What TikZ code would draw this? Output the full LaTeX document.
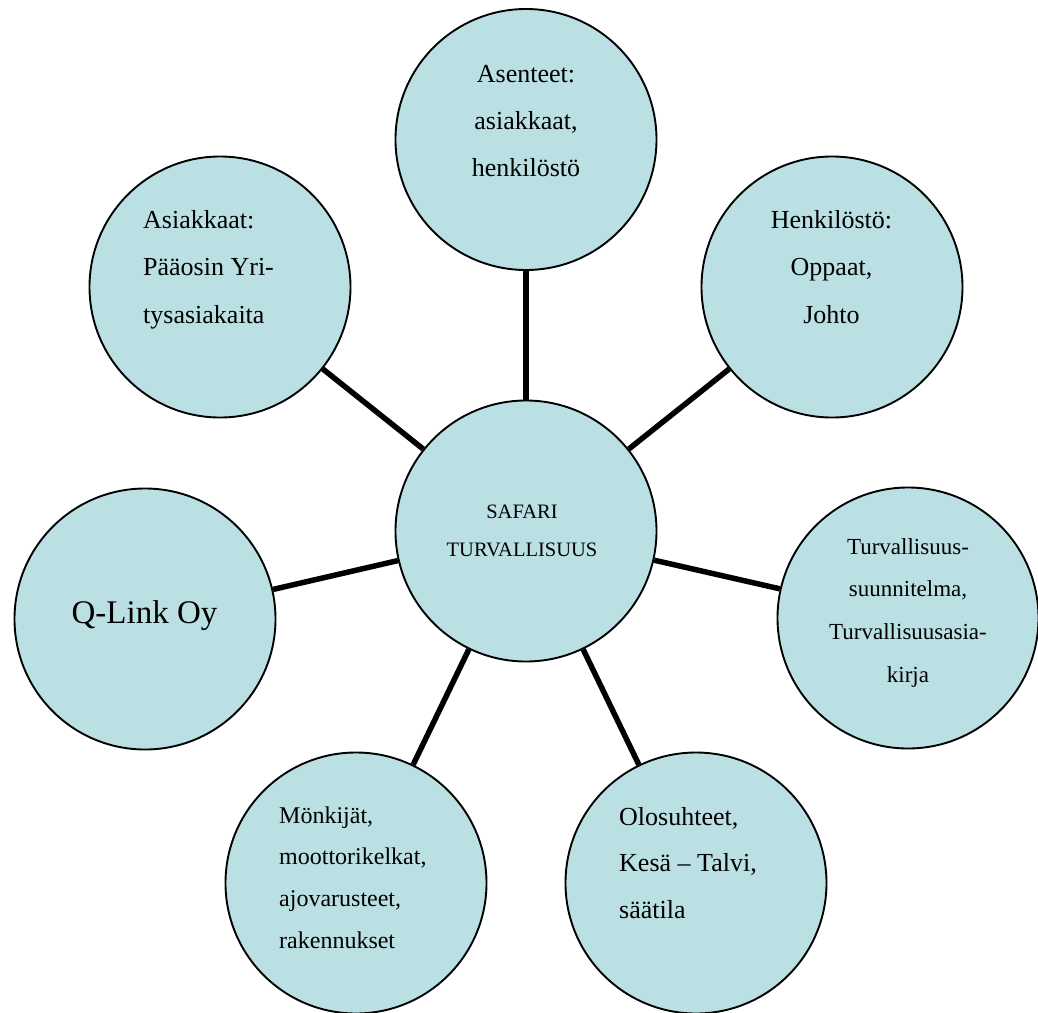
\documentclass[tikz,border=0pt]{standalone}
\usepackage{fontspec}
\setmainfont{Liberation Serif}
\definecolor{bub}{RGB}{186,224,228}
\newcommand{\mylinesC}[1]{\vtop{\halign{\hfil##\hfil\cr#1\crcr}}}
\newcommand{\mylinesL}[1]{\vtop{\halign{##\hfil\cr#1\crcr}}}
\begin{document}
\begin{tikzpicture}[x=1pt,y=-1pt,
  bubble/.style={circle,draw=black,line width=1.9pt,fill=bub,minimum size=261pt,inner sep=0pt},
  link/.style={line width=5.5pt,draw=black},
  txt/.style={inner sep=0pt,text=black}]
\useasboundingbox (0,0) rectangle (1038,1012);
\clip (0,0) rectangle (1038,1012);
% circles
\node[bubble] (c)  at (526,531) {};
\node[bubble] (t)  at (526,139.5) {};
\node[bubble] (tl) at (220,287) {};
\node[bubble] (tr) at (832,287) {};
\node[bubble] (l)  at (145,619) {};
\node[bubble] (r)  at (908,618) {};
\node[bubble] (bl) at (356,883) {};
\node[bubble] (br) at (696,883) {};
% connectors
\foreach \n in {t,tl,tr,l,r,bl,br} \draw[link] (c) -- (\n);
% texts
\node[txt,anchor=base,font=\fontsize{20.5}{38}\selectfont] (ct) at (522,518)
  {\mylinesC{SAFARI\cr TURVALLISUUS}};
\node[txt,anchor=base,font=\fontsize{26}{47}\selectfont] (tt) at (526,82)
  {\mylinesC{Asenteet:\cr asiakkaat,\cr henkilöstö}};
\node[txt,anchor=base west,font=\fontsize{26}{47.5}\selectfont] (tlt) at (143,228)
  {\mylinesL{Asiakkaat:\cr Pääosin Yri-\cr tysasiakaita}};
\node[txt,anchor=base,font=\fontsize{26}{47.5}\selectfont] (trt) at (831.5,228)
  {\mylinesC{Henkilöstö:\cr Oppaat,\cr Johto}};
\node[txt,anchor=base,font=\fontsize{33}{40}\selectfont] (lt) at (144.5,623)
  {Q-Link Oy};
\node[txt,anchor=base,font=\fontsize{23}{42.7}\selectfont] (rt) at (908,554)
  {\mylinesC{Turvallisuus-\cr suunnitelma,\cr Turvallisuusasia-\cr kirja}};
\node[txt,anchor=base west,font=\fontsize{24}{41.7}\selectfont] (blt) at (279,823)
  {\mylinesL{Mönkijät,\cr moottorikelkat,\cr ajovarusteet,\cr rakennukset}};
\node[txt,anchor=base west,font=\fontsize{26}{46.5}\selectfont] (brt) at (619,825)
  {\mylinesL{Olosuhteet,\cr Kesä – Talvi,\cr säätila}};
\end{tikzpicture}
\end{document}
